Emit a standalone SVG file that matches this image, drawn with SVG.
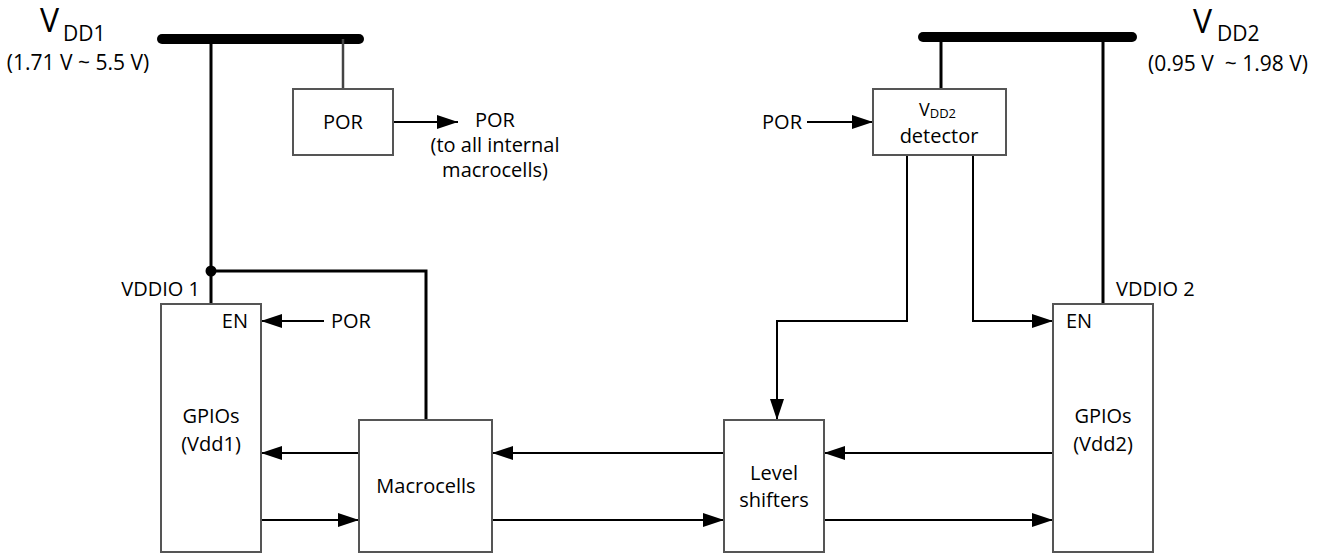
<svg xmlns="http://www.w3.org/2000/svg" width="1325" height="553" viewBox="0 0 1325 553">
<style>
text{font-family:"Open Sans","Liberation Sans",sans-serif;fill:#000;font-size:20px}
.big{font-size:32px}
.sub{font-size:21px}
.rng{font-size:21px}
.c{text-anchor:middle}
.e{text-anchor:end}
.box{fill:#fff;stroke:#555;stroke-width:2}
.w{fill:none;stroke:#000;stroke-width:2}
.p{fill:none;stroke:#000;stroke-width:3}
.bus{stroke:#000;stroke-width:10;stroke-linecap:round}
.a{marker-end:url(#ah)}
</style>
<defs>
<marker id="ah" markerUnits="userSpaceOnUse" markerWidth="21" markerHeight="14" refX="21" refY="7" orient="auto">
<path d="M0,0 L21,7 L0,14 z" fill="#000"/>
</marker>
</defs>
<g id="power">
<line class="bus" x1="162" y1="39" x2="359" y2="39"/>
<line class="bus" x1="923" y1="37" x2="1132" y2="37"/>
<text class="big" x="40" y="32">V</text>
<text class="sub" x="63" y="41">DD1</text>
<text class="c rng" x="78" y="70">(1.71 V ~ 5.5 V)</text>
<text class="big" x="1193" y="33">V</text>
<text class="sub" x="1217" y="41">DD2</text>
<text class="c rng" x="1228" y="71" xml:space="preserve">(0.95 V  ~ 1.98 V)</text>
<text class="e" x="200" y="296">VDDIO 1</text>
<text x="1116" y="296">VDDIO 2</text>
</g>
<g id="connectors">
<path class="p" d="M211,39 V304"/>
<path fill="none" stroke="#444" stroke-width="2.5" d="M343,39 V89"/>
<path class="p" d="M211,271 H426 V420"/>
<circle cx="211" cy="271" r="5.5" fill="#000"/>
<path class="p" d="M941,37 V89"/>
<path class="p" d="M1103,37 V304"/>
<path class="w a" d="M393,122 H458"/>
<path class="w a" d="M807,122 H873"/>
<path class="w a" d="M324,321 H261"/>
<path class="w a" d="M907,155 V321 H777 V420"/>
<path class="w a" d="M973,155 V321 H1053"/>
<path class="w a" d="M1053,453 H824"/>
<path class="w a" d="M724,453 H492"/>
<path class="w a" d="M359,453 H261"/>
<path class="w a" d="M261,520 H359"/>
<path class="w a" d="M492,520 H724"/>
<path class="w a" d="M824,520 H1053"/>
</g>
<g id="por">
<rect class="box" x="293" y="89" width="100" height="66"/>
<text class="c" x="343" y="129">POR</text>
</g>
<g id="por-out">
<text class="c" x="495" y="127">POR</text>
<text class="c" x="495" y="152">(to all internal</text>
<text class="c" x="495" y="177">macrocells)</text>
</g>
<g id="detector">
<rect class="box" x="873" y="89" width="133" height="66"/>
<text x="919" y="116" style="font-size:18px">V<tspan style="font-size:13px" dy="2">DD2</tspan></text>
<text class="c" x="939" y="143">detector</text>
</g>
<g id="por-in">
<text class="e" x="802" y="129">POR</text>
</g>
<g id="gpio1">
<rect class="box" x="161" y="304" width="100" height="248"/>
<text class="e" x="248" y="328">EN</text>
<text class="c" x="211" y="423">GPIOs</text>
<text class="c" x="211" y="451">(Vdd1)</text>
</g>
<g id="por-en1">
<text x="331" y="328">POR</text>
</g>
<g id="macrocells">
<rect class="box" x="359" y="420" width="133" height="132"/>
<text class="c" x="426" y="493">Macrocells</text>
</g>
<g id="levelshifters">
<rect class="box" x="724" y="420" width="100" height="132"/>
<text class="c" x="774" y="480">Level</text>
<text class="c" x="774" y="507">shifters</text>
</g>
<g id="gpio2">
<rect class="box" x="1053" y="304" width="100" height="248"/>
<text x="1066" y="328">EN</text>
<text class="c" x="1103" y="423">GPIOs</text>
<text class="c" x="1103" y="451">(Vdd2)</text>
</g>
</svg>
